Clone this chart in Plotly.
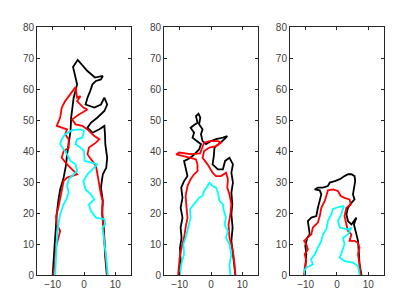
import plotly.graph_objects as go

# // outlines, one (x, y) list per curve, 3 panels
p1_black_x = [-10, -9.6, -9.1, -8.7, -8.2, -7.6, -6.5, -5.7, -5.4, -4.9, -4.3, -4.1, -3.8, -3.3, -2.7, -2.2, -3.5, -2.0, 1.1, 2.7, 3.5, 6.0, 5.4, 3.8, 2.7, 2.0, 1.1, 0.5, 3.3, 5.4, 6.5, 7.4, 6.5, 4.3, 2.2, 1.1, 2.7, 4.9, 6.5, 6.7, 6.8, 7.4, 7.1, 6.0, 5.4, 6.0, 5.8, 6.3, 6.5, 6.8, 7.3]
p1_black_y = [0, 6.7, 12, 19.6, 23.9, 27.6, 31.4, 35.7, 38.9, 43.2, 46.5, 50.8, 54, 57.2, 59.4, 61.5, 67.1, 69.4, 65.8, 64.2, 63.7, 64.2, 63.1, 62.6, 61.5, 59.4, 57.2, 55, 54, 55, 57.2, 55, 52.9, 50.8, 49.1, 47.5, 45.9, 47, 48.1, 45.4, 42.2, 37.8, 34.6, 32.5, 28.2, 23.9, 19.6, 15.3, 11, 5.6, 0]
p1_red_x = [-9.8, -9.2, -9.0, -8.2, -7.6, -8.7, -8.9, -8.2, -7.6, -7.1, -6.5, -5.4, -3.8, -2.2, -5.4, -7.1, -6.5, -4.9, -4.9, -6.0, -5.4, -8.7, -7.6, -7.1, -6.0, -4.9, -3.3, -2.7, -2.2, -1.1, -2.2, -0.2, 1.1, -1.6, -3.8, -2.7, -0.5, 1.6, 3.3, 4.9, 3.8, 1.6, 1.1, 2.7, 3.8, 4.3, 4.9, 5.4, 6.0, 5.8, 6.0, 6.5, 7.1, 7.4]
p1_red_y = [0, 4.5, 8.8, 12, 14.2, 16.3, 19, 21.7, 24.4, 27.6, 30.3, 31.4, 31.9, 32.5, 35.7, 37.8, 40, 41, 43.8, 45.4, 47, 48.1, 50.8, 54, 56.1, 57.7, 59.9, 60.6, 57.2, 57.7, 56.1, 54, 53.4, 51.8, 50.2, 48.6, 48.1, 46.5, 44.8, 43.8, 42.7, 41.1, 38.9, 36.8, 35.2, 32.5, 28.2, 26, 23.7, 21.7, 17.4, 11, 4.5, 0]
p1_cyan_x = [-9.2, -8.7, -8.2, -7.6, -6.5, -5.4, -4.9, -5.4, -4.9, -3.8, -2.2, -2.7, -4.3, -5.4, -7.6, -7.1, -6.0, -3.8, -1.1, 0, -0.5, -2.2, -2.7, -1.1, 0, 0.2, 2.7, 4.3, 1.1, -0.2, 0.5, 2.2, 3.3, 1.6, 2.2, 3.8, 6.5, 6.8, 5.9, 6.5, 7.1, 7.6]
p1_cyan_y = [0, 11, 16.3, 19.6, 22.8, 24.9, 26.6, 28.7, 30.9, 31.9, 33.5, 35.7, 36.8, 38.9, 42.2, 43.8, 45.4, 46.7, 47, 46.5, 44.3, 43.8, 42.2, 41.1, 40, 36.8, 36.2, 35.7, 32.5, 30.3, 27.6, 26, 24.4, 22.8, 20.6, 18.5, 18, 16.3, 15.3, 11, 5.6, 0]

p2_black_x = [-10.2, -9.7, -9.9, -9.4, -9.7, -9.1, -9.7, -9.1, -9.5, -8.6, -7.5, -8.1, -8.6, -7.5, -5.9, -4.8, -3.8, -3.2, -5.9, -5.4, -6.5, -5.4, -4.3, -4.8, -4.0, -3.4, -3.8, -2.7, -3.2, -2.7, -1.6, 0, 1.6, 3.8, 5.2, 4.3, 2.2, 1.1, 0.9, 0.5, 2.2, 3.8, 4.5, 5.9, 7.0, 6.5, 7.0, 6.5, 6.8, 6.5, 6.9, 6.5, 7.0, 7.5, 7.8]
p2_black_y = [0, 4.5, 8.8, 12, 15.3, 18.5, 21.7, 24.9, 28.2, 30.3, 31.9, 34.6, 36.8, 37.3, 38.4, 39.5, 40.5, 42.2, 44.3, 45.9, 47.5, 48.4, 49.1, 51.3, 52, 50.8, 48.6, 47, 45.4, 43.2, 42.2, 43.2, 43.8, 44.3, 44.8, 43.8, 42.2, 41.1, 38.4, 35.7, 34.1, 34.1, 36.8, 37.8, 35.7, 33, 29.8, 26.6, 22.8, 19.6, 15.3, 11, 6.7, 3.4, 0]
p2_red_x = [-10.5, -10.0, -9.4, -8.6, -8.1, -7.5, -7.8, -8.1, -7.5, -6.5, -5.4, -4.3, -4.3, -4.8, -6.5, -8.6, -11.1, -10.2, -6.5, -3.5, -2.2, -0.5, 2.2, 3.2, 1.6, -0.5, -2.2, -2.7, -1.1, 0.5, 1.6, 3.2, 4.8, 5.4, 5.2, 5.9, 6.5, 6.2, 5.6, 5.9, 7.0, 7.5, 7.7]
p2_red_y = [0, 5.6, 8.8, 12, 15.3, 18.5, 21.7, 25.5, 28.7, 30.9, 32.5, 33.5, 35.7, 37.3, 37.8, 38.4, 38.9, 39.5, 39, 39.2, 42.7, 43.2, 43.2, 42.7, 41.6, 41.1, 40, 37.8, 35.7, 33, 31.9, 31.9, 33, 30.9, 28.2, 26, 22.8, 19.6, 16.3, 12, 7.7, 3.4, 0]
p2_cyan_x = [-9.9, -9.5, -8.6, -8.8, -8.1, -7.5, -7.0, -6.5, -6.7, -5.9, -4.8, -3.8, -2.7, -2.2, -1.1, -0.5, 0.5, 1.6, 2.2, 2.7, 3.8, 4.1, 4.8, 4.3, 5.4, 4.8, 5.9, 6.5, 5.9, 6.2]
p2_cyan_y = [0, 3.4, 6.7, 9.9, 12, 14.2, 16.3, 18.5, 21.2, 22.3, 23.9, 24.9, 25.5, 27.1, 28.7, 29.8, 28.7, 28.2, 26.6, 23.9, 22.8, 20.7, 18.5, 16.3, 14.2, 12, 9.9, 6.7, 3.4, 0]

p3_black_x = [-10.3, -10.1, -9.8, -10.1, -9.5, -8.7, -9.3, -8.2, -6.6, -6.1, -5.5, -5.0, -5.5, -7.1, -6.1, -4.5, -2.9, -2.3, -0.7, 0.9, 2.4, 3.5, 4.6, 5.6, 5.8, 5.1, 5.6, 4.6, 3.5, 3.0, 3.5, 4.6, 6.2, 5.4, 6.2, 6.7, 7.0, 7.2, 7.8]
p3_black_y = [0, 3.4, 6.7, 9.4, 12, 13.1, 17.4, 18.5, 19, 21.7, 24.4, 26, 27.3, 27.6, 28.2, 28.2, 28.7, 29.8, 30.3, 30.9, 31.9, 32.5, 32.5, 31.9, 30.3, 26, 24.4, 23.3, 21.7, 19.6, 17.4, 16.3, 18.5, 16.3, 13.1, 11, 6.7, 3.4, 0]
p3_red_x = [-10.5, -10.3, -9.8, -10.3, -9.3, -9.8, -10.5, -9.3, -8.2, -7.7, -6.1, -5.5, -5.0, -3.9, -3.4, -2.9, -1.3, 0.3, 1.2, 2.4, 4.0, 4.4, 3.0, 2.4, 3.0, 3.5, 4.6, 4.0, 5.6, 6.7, 7.2, 6.7, 7.2, 7.6]
p3_red_y = [0, 2.4, 4.5, 6.7, 8.3, 9.9, 11, 12, 13.1, 15.3, 16.9, 19, 21.7, 23.9, 25.5, 27.3, 27.6, 27.1, 25.5, 24.9, 24.4, 22.8, 21.7, 19, 16.3, 14.2, 13.1, 11, 11, 10.4, 8.8, 6.7, 3.4, 0]
p3_cyan_x = [-10.1, -10.5, -9.8, -8.7, -7.7, -8.3, -7.1, -6.1, -5.0, -4.5, -3.4, -2.9, -1.8, -1.3, -0.2, 2.2, 1.4, 0.3, 0.9, 3.5, 4.6, 3.5, 1.9, 2.4, 0.9, 2.4, 5.1, 6.7, 7.2]
p3_cyan_y = [0, 1.3, 2.4, 2.9, 3.4, 5.1, 6.7, 8.8, 11, 13.1, 14.7, 17.4, 19.6, 21.2, 21.7, 22.3, 19.6, 17.4, 15.3, 14.7, 15.3, 13.1, 12, 9.9, 5.6, 4.5, 4, 2.9, 0]

x_ticks = [-10, 0, 10]
y_ticks = [0, 10, 20, 30, 40, 50, 60, 70, 80]

panels = [
    [(p1_black_x, p1_black_y, 'black'), (p1_red_x, p1_red_y, 'red'), (p1_cyan_x, p1_cyan_y, 'cyan')],
    [(p2_black_x, p2_black_y, 'black'), (p2_red_x, p2_red_y, 'red'), (p2_cyan_x, p2_cyan_y, 'cyan')],
    [(p3_black_x, p3_black_y, 'black'), (p3_red_x, p3_red_y, 'red'), (p3_cyan_x, p3_cyan_y, 'cyan')],
]
# plot area is 347 px wide (l=29, r=19), panels 94 px wide
domains = [[0.0, 0.2709], [0.366, 0.6369], [0.7291, 1.0]]

fig = go.Figure()
layout = {}
for i, curves in enumerate(panels):
    n = '' if i == 0 else str(i + 1)
    for xs, ys, col in curves:
        fig.add_trace(go.Scatter(x=xs, y=ys, mode='lines', line=dict(color=col, width=1.8),
                                 xaxis='x' + n, yaxis='y' + n, showlegend=False))
    axis_style = dict(showline=True, mirror='ticks', linecolor='#262626', linewidth=1,
                      ticks='inside', ticklen=3, tickcolor='#262626', showgrid=False,
                      zeroline=False, automargin=False,
                      tickfont=dict(family='Liberation Sans', size=10, color='#404040'))
    layout['xaxis' + n] = dict(axis_style, domain=domains[i], range=[-15, 15], tickvals=x_ticks,
                               anchor='y' + n)
    layout['yaxis' + n] = dict(axis_style, domain=[0, 1], range=[0, 80], tickvals=y_ticks,
                               anchor='x' + n)

fig.update_layout(**layout)
fig.update_layout(width=395, height=295, margin=dict(l=29, r=19, t=19, b=28),
                  paper_bgcolor='white', plot_bgcolor='white')
fig.write_html("out.html")
